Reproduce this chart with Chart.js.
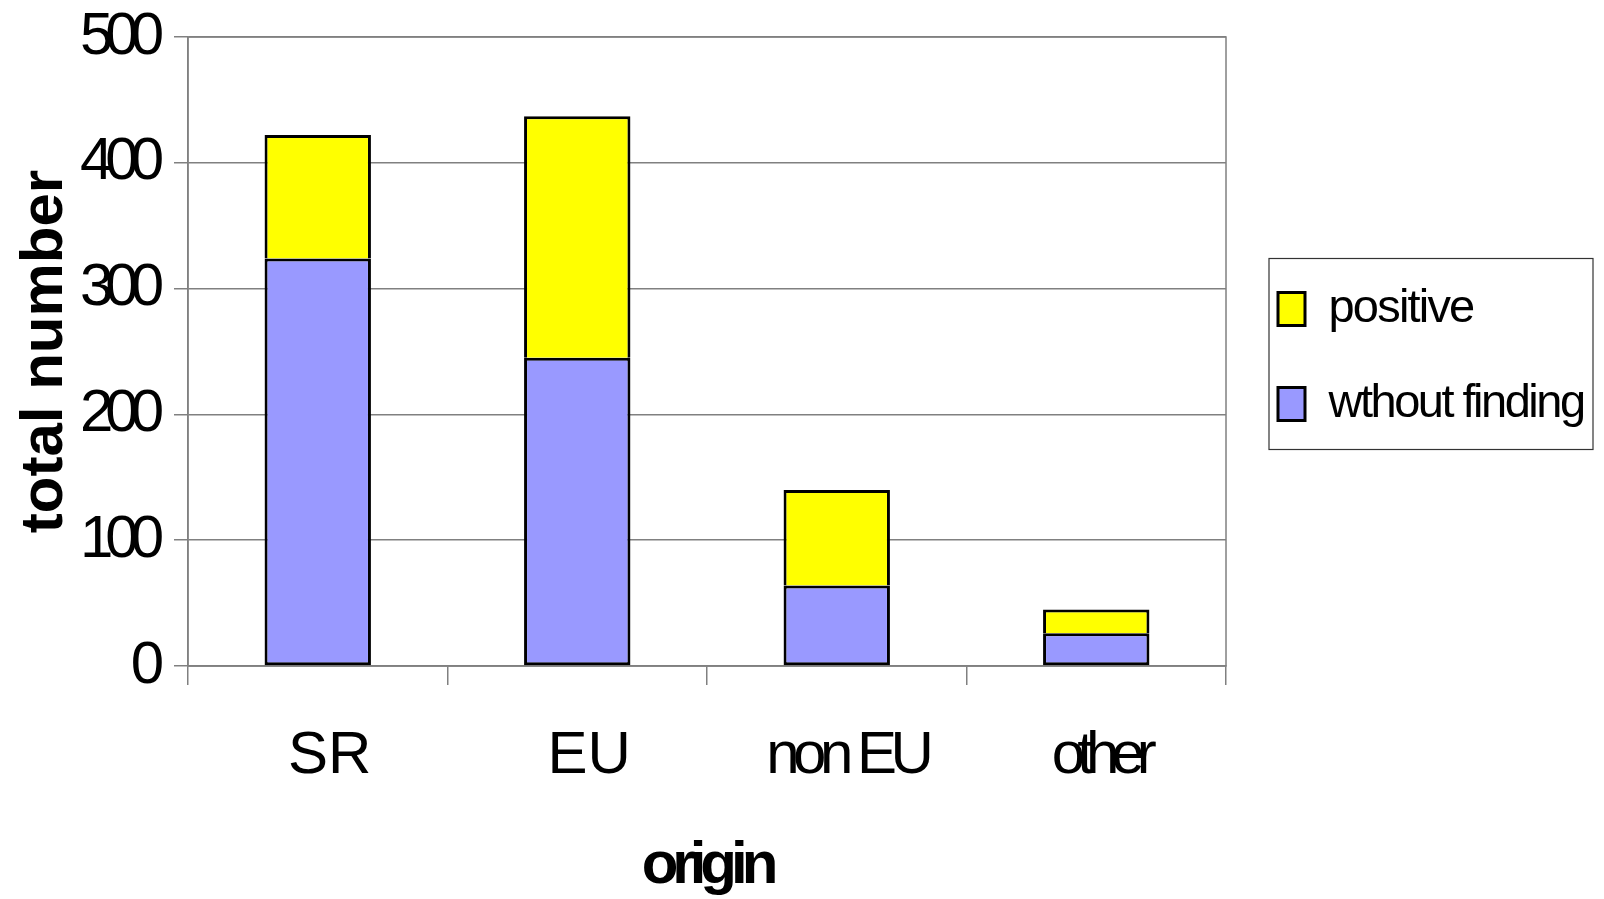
<!DOCTYPE html>
<html>
<head>
<meta charset="utf-8">
<script src="https://cdn.jsdelivr.net/npm/chart.js@4.4.1/dist/chart.umd.min.js"></script>
<style>
html,body{margin:0;padding:0;background:#fff;}
canvas{display:block;}
</style>
</head>
<body>
<canvas id="c" width="1604" height="899"></canvas>
<script>
// ---- data ----
const categories = ['SR', 'EU', 'non EU', 'other'];
const withoutFinding = [324, 245, 64, 26];
const positive = [98, 192, 76, 19];
const seriesNames = ['wthout finding', 'positive'];
const yTickValues = [0, 100, 200, 300, 400, 500];
const xTitle = 'origin';
const yTitle = 'total number';

// ---- style ----
const FONT = '"Liberation Sans", Arial, sans-serif';
const spacingByText = { 'SR': '0px', 'EU': '0px', 'non EU': '-6.5px', 'other': '-8px',
  'origin': '-6px', 'total number': '0px', 'positive': '-1.8px', 'wthout finding': '-2.5px' };
const dxByText = { 'other': -8, 'non EU': -2 };
function spacingFor(t) {
  if (/^\d+$/.test(String(t))) return '-8px';
  return spacingByText[t] || '0px';
}

const spacingPlugin = {
  id: 'spacing',
  beforeDraw(chart) {
    const ctx = chart.ctx;
    if (!ctx.__patched) {
      const orig = ctx.fillText;
      ctx.fillText = function (t, x, y, mw) {
        const prev = this.letterSpacing;
        this.letterSpacing = spacingFor(t);
        const xx = x + (dxByText[t] || 0);
        if (mw === undefined) orig.call(this, t, xx, y); else orig.call(this, t, xx, y, mw);
        this.letterSpacing = prev;
      };
      ctx.__patched = true;
    }
  },
  afterLayout(chart) {
    // nudge legend block slightly, as in the reference
    chart.legend.top += 5;
    chart.legend.bottom += 5;
    chart.legend.left += 4;
    chart.legend.right += 4;
  }
};

const framePlugin = {
  id: 'frame',
  beforeDatasetsDraw(chart) {
    const a = chart.chartArea, ctx = chart.ctx;
    ctx.save();
    ctx.strokeStyle = '#808080';
    ctx.lineWidth = 1.5;
    ctx.strokeRect(a.left, a.top, a.right - a.left, a.bottom - a.top);
    ctx.restore();
  },
  afterDraw(chart) {
    const lg = chart.legend, hb = lg.legendHitBoxes, ctx = chart.ctx;
    if (!hb || !hb.length) return;
    const l = chart.chartArea.right + 43;
    const t = hb[0].top - 27;
    const last = hb[hb.length - 1];
    const b = last.top + last.height + 22;
    const r = chart.width - 11;
    ctx.save();
    ctx.strokeStyle = '#333';
    ctx.lineWidth = 1.2;
    ctx.strokeRect(l, t, r - l, b - t);
    ctx.restore();
  }
};

new Chart(document.getElementById('c'), {
  type: 'bar',
  data: {
    labels: categories,
    datasets: [
      { label: seriesNames[0], data: withoutFinding, backgroundColor: '#9999FF',
        borderColor: '#000', borderWidth: 3, borderSkipped: false },
      { label: seriesNames[1], data: positive, backgroundColor: '#FFFF00',
        borderColor: '#000', borderWidth: 3, borderSkipped: 'start' }
    ]
  },
  options: {
    responsive: false,
    animation: false,
    devicePixelRatio: 1,
    layout: { padding: { top: 37, right: 0, bottom: 0, left: 0 } },
    datasets: { bar: { categoryPercentage: 1, barPercentage: 0.41 } },
    plugins: {
      tooltip: { enabled: false },
      legend: {
        position: 'right',
        fullSize: false,
        reverse: true,
        maxWidth: 378,
        labels: {
          boxWidth: 27, boxHeight: 33, padding: 48, color: '#000',
          font: { family: FONT, size: 47 }
        }
      }
    },
    scales: {
      x: {
        stacked: true,
        grid: { offset: true, drawOnChartArea: false, tickLength: 19, color: '#808080', lineWidth: 1.5 },
        border: { color: '#808080', width: 1.5 },
        ticks: { color: '#000', padding: 35, labelOffset: 12, maxRotation: 0,
                 font: { family: FONT, size: 60 } },
        title: { display: true, text: xTitle, color: '#000', padding: { top: 0, bottom: -3 },
                 font: { family: FONT, size: 60, weight: 'bold' } },
        afterFit(s) { s.height = 233; s.paddingLeft = 0; s.paddingRight = 0; }
      },
      y: {
        stacked: true,
        min: 0, max: 500,
        afterBuildTicks(s) { s.ticks = yTickValues.map(v => ({ value: v })); },
        grid: { color: '#808080', lineWidth: 1.5, tickLength: 14 },
        border: { color: '#808080', width: 1.5 },
        ticks: { color: '#000', padding: 18, font: { family: FONT, size: 60 } },
        title: { display: true, text: yTitle, color: '#000', padding: { top: 9, bottom: 0 },
                 font: { family: FONT, size: 60, weight: 'bold' } },
        afterFit(s) { s.width = 188; s.paddingTop = 0; s.paddingBottom = 0; }
      }
    }
  },
  plugins: [spacingPlugin, framePlugin]
});
</script>
</body>
</html>
